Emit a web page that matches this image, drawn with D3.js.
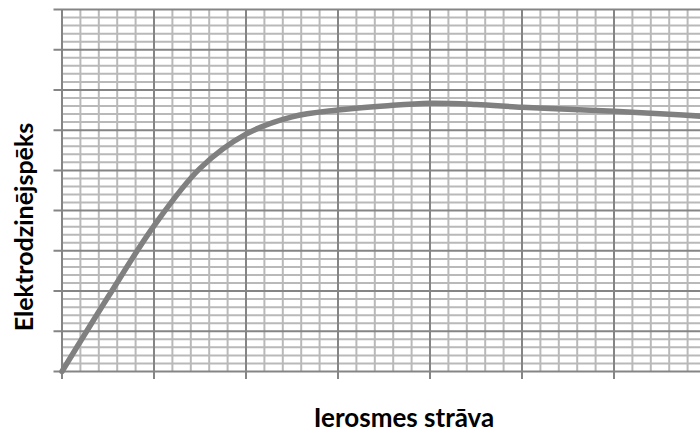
<!DOCTYPE html>
<html><head><meta charset="utf-8">
<script src="https://cdn.jsdelivr.net/npm/d3@7"></script>
<style>html,body{margin:0;padding:0;background:#fff}svg{display:block}</style>
</head><body>
<svg id="c" width="700" height="432"></svg>
<script>
// Data (arbitrary units: one major grid division = 1)
const xValues = [0, 0.5, 1, 1.5, 2, 2.5, 3, 3.5, 4, 4.5, 5, 5.5, 6, 6.5, 7, 7.5];
const yValues = [0, 1.85, 3.62, 5.05, 5.9, 6.33, 6.5, 6.6, 6.67, 6.64, 6.57, 6.52, 6.47, 6.41, 6.34, 6.28];
const xMajorTicks = [0,1,2,3,4,5,6,7,8];
const yMajorTicks = [0,1,2,3,4,5,6,7,8,9];
const xTitle = "Ierosmes strāva";
const yTitle = "Elektrodzinējspēks";

const svg = d3.select("#c");
const mLeft = 62, mTop = 9.5, mBottom = 371.5;
const x = d3.scaleLinear().domain([0, 8]).range([mLeft, mLeft + 8*92]);
const y = d3.scaleLinear().domain([0, 9]).range([mBottom, mTop]);

const g = svg.append("g");
// minor grid
const xMinor = d3.range(0, 8.001, 0.2).filter(v => Math.abs(v - Math.round(v)) > 1e-6);
const yMinor = d3.range(0, 9.001, 0.2).filter(v => Math.abs(v - Math.round(v)) > 1e-6);
g.selectAll(".vmin").data(xMinor).join("line")
  .attr("x1", d => x(d)).attr("x2", d => x(d)).attr("y1", y(9)).attr("y2", y(0))
  .attr("stroke", "#b9b9b9").attr("stroke-width", 2);
g.selectAll(".hmin").data(yMinor).join("line")
  .attr("x1", x(0)).attr("x2", x(8)).attr("y1", d => y(d)).attr("y2", d => y(d))
  .attr("stroke", "#b9b9b9").attr("stroke-width", 2);
// major grid
g.selectAll(".vmaj").data(xMajorTicks).join("line")
  .attr("x1", d => x(d)).attr("x2", d => x(d)).attr("y1", y(9)).attr("y2", y(0) + 7.5)
  .attr("stroke", "#858585").attr("stroke-width", 2);
g.selectAll(".hmaj").data(yMajorTicks).join("line")
  .attr("x1", x(0) - 8.5).attr("x2", x(8)).attr("y1", d => y(d)).attr("y2", d => y(d))
  .attr("stroke", "#858585").attr("stroke-width", 2);

// curve
const pts = xValues.map((v, i) => [v, yValues[i]]);
svg.append("path").datum(pts)
  .attr("fill", "none").attr("stroke", "#808080").attr("stroke-width", 5.5)
  .attr("stroke-linecap", "round")
  .attr("d", d3.line().x(d => x(d[0])).y(d => y(d[1])).curve(d3.curveCatmullRom.alpha(0.5)));

// titles
svg.append("text").attr("x", 404).attr("y", 427).attr("text-anchor", "middle")
  .attr("font-family", "Lato, sans-serif").attr("font-weight", "bold").attr("font-size", 26)
  .attr("fill", "#000").text(xTitle);
svg.append("text").attr("transform", "translate(33,227) rotate(-90)").attr("text-anchor", "middle")
  .attr("font-family", "Lato, sans-serif").attr("font-weight", "bold").attr("font-size", 25)
  .attr("fill", "#000").text(yTitle);
</script>
</body></html>
